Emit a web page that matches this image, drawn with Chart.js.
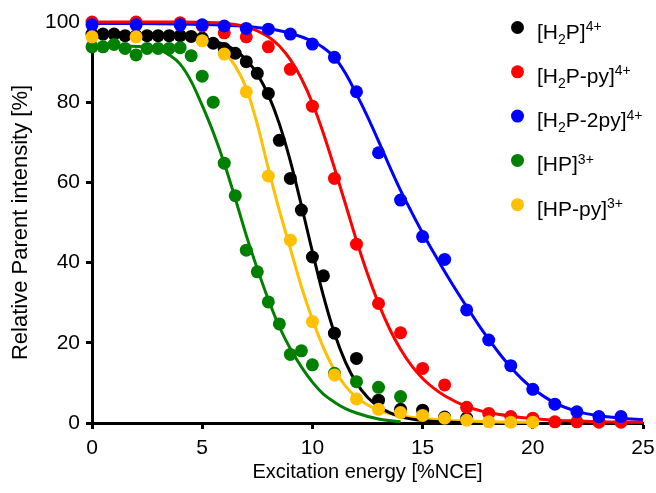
<!DOCTYPE html>
<html>
<head>
<meta charset="utf-8">
<script src="https://cdn.jsdelivr.net/npm/chart.js@4"></script>
<style>
  html, body { margin: 0; padding: 0; background: #fff; }
  canvas { display: block; }
</style>
</head>
<body>
<canvas id="c" width="656" height="493"></canvas>
<script>
// Measured fragmentation points (excitation energy in %NCE, relative parent intensity in %)
const h2pX = [0,0.5,1,1.5,2,2.5,3,3.5,4,4.5,5,5.5,6,6.5,7,7.5,8,8.5,9,9.5,10,10.5,11,12,13,14,15,16,17];
const h2pY = [97,97,97,96.6,96.6,96.6,96.6,96.6,96.6,96.4,96,94.7,93.4,92.2,90.1,87.2,82.2,70.5,61,53.1,41.4,36.7,22.4,16.1,5.7,3.4,3.2,1.5,1.2];

const h2pPyX = [0,2,4,5,6,7,8,9,10,11,12,13,14,15,16,17,18,19,20,21,22,23,24];
const h2pPyY = [100,100,99.8,99,97.3,96.3,93.8,88.2,79,61,44.6,29.8,22.5,13.6,9.5,3.9,2.4,1.6,1.2,0.3,0.3,0.2,0.2];

const h2p2PyX = [0,2,4,5,6,7,8,9,10,11,12,13,14,15,16,17,18,19,20,21,22,23,24];
const h2p2PyY = [99.3,99.3,99.3,99.3,99,98.4,98.2,97,94.5,91.2,82.6,67.4,55.6,46.5,40.8,28.2,20.7,14.3,8.4,4.7,2.8,1.6,1.6];

const hpX = [0,0.5,1,1.5,2,2.5,3,3.5,4,4.5,5,5.5,6,6.5,7,7.5,8,8.5,9,9.5,10,11,12,13,14];
const hpY = [93.8,93.8,94.4,93.4,91.8,93.4,93.4,93.4,93.6,91.6,86.5,80,64.8,56.7,43.1,37.7,30.2,24.7,17.1,18,14.5,12.4,10.3,8.9,6.6];

const hpPyX = [0,2,5,6,7,8,9,10,11,12,13,14,15,16,17,18,19,20];
const hpPyY = [96.3,96.3,95.3,92,82.6,61.6,45.6,25.3,12,6,3.4,2.6,1.9,1.2,0.7,0.3,0.2,0.2];

// Sigmoidal fit curves
const h2pFitX = [0,1,2,3,4,5,5.5,6,6.5,7,7.5,8,8.5,9,9.5,10,10.5,11,11.5,12,12.5,13,13.5,14,15,16,17];
const h2pFitY = [97,97,97,96.9,96.6,96,95.3,94.4,92.9,90.6,87,81.8,74.6,65.3,54.3,42.7,31.7,22.4,15.2,10,6.4,4.1,2.6,1.6,0.6,0.25,0.1];

const h2pPyFitX = [0,2,4,5,6,7,7.5,8,8.5,9,9.5,10,10.5,11,11.5,12,12.5,13,13.5,14,14.5,15,15.5,16,17,18,19,20,21,22,23,24,25];
const h2pPyFitY = [100,100,100,99.9,99.7,98.8,97.8,96.3,94,90.6,85.9,79.8,72.2,63.6,54.6,45.5,37.2,29.8,23.5,18.4,14.3,11.1,8.7,6.8,4.1,2.6,1.7,1.1,0.7,0.5,0.3,0.2,0.16];

const h2p2PyFitX = [0,2,4,6,7,8,9,10,10.5,11,11.5,12,12.5,13,13.5,14,14.5,15,15.5,16,16.5,17,17.5,18,18.5,19,19.5,20,21,22,23,24,25];
const h2p2PyFitY = [99.6,99.6,99.5,99.2,98.9,98.3,97.2,95.2,93.6,91.2,87.2,82,76.4,70.3,64,58,52.6,47.4,42.5,37.8,33.3,29,24.8,20.9,17.2,13.9,11,8.6,5,2.9,1.8,1.2,0.8];

const hpFitX = [0,1,2,3,3.5,4,4.5,5,5.5,6,6.5,7,7.5,8,8.5,9,9.5,10,10.5,11,11.5,12,13,14];
const hpFitY = [94,94,93.9,93.2,91.8,89.5,85.2,79.2,72.5,64.8,56,46.8,38.5,30.8,24,18.5,14,10.2,7.2,5.2,3.6,2.5,1,0.3];

const hpPyFitX = [0,2,4,5,5.5,6,6.5,7,7.5,8,8.5,9,9.5,10,10.5,11,11.5,12,13,14,15,16,17,18,19,20];
const hpPyFitY = [96.5,96.5,96.3,95.5,94.5,92.5,89,83.5,74.5,63.5,53,43.5,34,25.8,18.8,13.2,9.2,6.4,3.2,1.8,1.1,0.7,0.5,0.3,0.2,0.15];

// Axis tick values
const xTicks = [0,5,10,15,20,25];
const yTicks = [0,20,40,60,80,100];

// Series colours and legend labels (plain text 0, subscript -1, superscript +1)
const seriesColors = ['#000000','#ff0000','#0000ff','#008000','#ffc000'];
const legendParts = [
  [['[H',0],['2',-1],['P]',0],['4+',1]],
  [['[H',0],['2',-1],['P-py]',0],['4+',1]],
  [['[H',0],['2',-1],['P-2py]',0],['4+',1]],
  [['[HP]',0],['3+',1]],
  [['[HP-py]',0],['3+',1]]
];

const FONT = '"Liberation Sans", Arial, Helvetica, sans-serif';
const pair = (xs, ys) => xs.map((x, i) => ({x: x, y: ys[i]}));

const pointSets = [[h2pX,h2pY],[h2pPyX,h2pPyY],[h2p2PyX,h2p2PyY],[hpX,hpY],[hpPyX,hpPyY]];
const fitSets = [[h2pFitX,h2pFitY],[h2pPyFitX,h2pPyFitY],[h2p2PyFitX,h2p2PyFitY],[hpFitX,hpFitY],[hpPyFitX,hpPyFitY]];

const datasets = [];
// points: later series drawn on top
pointSets.forEach(([xs, ys], i) => {
  datasets.push({
    data: pair(xs, ys),
    showLine: false,
    pointRadius: 6.5,
    pointBorderWidth: 0,
    pointBackgroundColor: seriesColors[i],
    pointBorderColor: seriesColors[i],
    clip: false,
    order: 5 - i
  });
});
// fitted curves, underneath all points
fitSets.forEach(([xs, ys], i) => {
  datasets.push({
    data: pair(xs, ys),
    showLine: true,
    borderColor: seriesColors[i],
    borderWidth: 3,
    pointRadius: 0,
    cubicInterpolationMode: 'monotone',
    fill: false,
    clip: false,
    order: 20 + i
  });
});

const speciesLegend = {
  id: 'speciesLegend',
  afterDatasetsDraw(chart) {
    const ctx = chart.ctx;
    ctx.save();
    ctx.textAlign = 'left';
    ctx.textBaseline = 'alphabetic';
    legendParts.forEach((parts, i) => {
      const cy = 27.5 + 44.3 * i;
      ctx.fillStyle = seriesColors[i];
      ctx.beginPath();
      ctx.arc(517.5, cy, 6.5, 0, Math.PI * 2);
      ctx.fill();
      let x = 537;
      const base = cy + 11;
      ctx.fillStyle = '#000';
      parts.forEach(([t, s]) => {
        ctx.font = (s === 0 ? '21px ' : '14px ') + FONT;
        const y = s === 0 ? base : (s < 0 ? base + 5 : base - 7.5);
        ctx.fillText(t, x, y);
        x += ctx.measureText(t).width;
      });
    });
    ctx.restore();
  }
};

new Chart(document.getElementById('c'), {
  type: 'scatter',
  data: { datasets: datasets },
  plugins: [speciesLegend],
  options: {
    responsive: false,
    animation: false,
    devicePixelRatio: 1,
    events: [],
    layout: { padding: { top: 22, right: 13, left: 0, bottom: 0 } },
    plugins: { legend: { display: false }, tooltip: { enabled: false } },
    scales: {
      x: {
        type: 'linear',
        min: 0, max: 25,
        afterBuildTicks: (s) => { s.ticks = xTicks.map(v => ({value: v})); },
        afterFit: (s) => { s.height = 70; s.paddingLeft = 0; s.paddingRight = 0; },
        border: { display: true, color: '#000', width: 3 },
        grid: { drawOnChartArea: false, drawTicks: true, tickLength: 6, tickWidth: 3, tickColor: '#000' },
        ticks: { color: '#000', font: { family: FONT, size: 21 }, padding: 7, maxRotation: 0 },
        title: { display: true, text: 'Excitation energy [%NCE]', color: '#000', font: { family: FONT, size: 20 }, padding: { top: 0, bottom: 9 } }
      },
      y: {
        type: 'linear',
        min: 0, max: 100,
        afterBuildTicks: (s) => { s.ticks = yTicks.map(v => ({value: v})); },
        afterFit: (s) => { s.width = 92; s.paddingTop = 0; s.paddingBottom = 0; },
        border: { display: true, color: '#000', width: 3 },
        grid: { drawOnChartArea: false, drawTicks: true, tickLength: 6, tickWidth: 3, tickColor: '#000' },
        ticks: { color: '#000', font: { family: FONT, size: 21 }, padding: 6 },
        title: { display: true, text: 'Relative Parent intensity [%]', color: '#000', font: { family: FONT, size: 22 }, padding: { top: 8, bottom: 0 } }
      }
    }
  }
});
</script>
</body>
</html>
